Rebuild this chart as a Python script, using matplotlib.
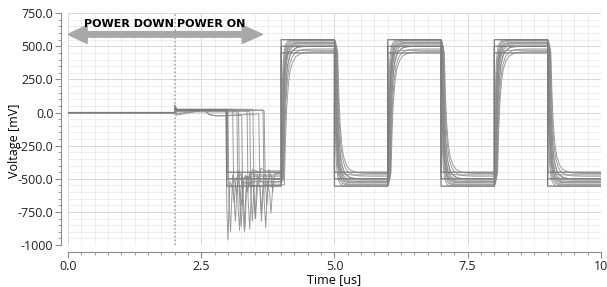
import matplotlib
matplotlib.use("Agg")
import matplotlib.pyplot as plt
import numpy as np

# ---- data ----
x_ticks = [0.0, 2.5, 5.0, 7.5, 10.0]
x_tick_labels = ["0.0", "2.5", "5.0", "7.5", "10"]
y_ticks = [750, 500, 250, 0, -250, -500, -750, -1000]
y_tick_labels = ["750.0", "500.0", "250.0", "0.0", "-250.0", "-500.0", "-750.0", "-1000"]

power_on_t = 2.0        # dotted marker
spike_mv = 50           # glitch at power on
rise_times = [4.0, 6.0, 8.0]
fall_times = [5.0, 7.0, 9.0]
t_end = 10.0

# normalised settling shape of one edge (fraction of the swing vs. time after edge, us)
settle_dt = [0, 0.01, 0.02, 0.035, 0.05, 0.075, 0.1, 0.15, 0.2, 0.3, 0.45]
settle_frac = [0, 0.35, 0.58, 0.76, 0.86, 0.93, 0.965, 0.99, 0.997, 1.0, 1.0]

# simulated traces with slow edges
pre_level = [20, 15, 25, 5, 20, -20, 20, 10, 25, -10, 20, 15]
drop_t = [
    [2.96, 2.98, 3.00, 3.04, 3.08, 3.12, 3.15, 3.20, 3.30, 3.5, 4.0],
    [3.00, 3.02, 3.05, 3.09, 3.13, 3.17, 3.20, 3.28, 3.40, 4.0],
    [3.09, 3.11, 3.14, 3.18, 3.22, 3.26, 3.30, 3.42, 4.0],
    [3.17, 3.19, 3.22, 3.26, 3.29, 3.32, 3.36, 3.46, 4.0],
    [3.20, 3.22, 3.25, 3.29, 3.33, 3.37, 3.41, 3.50, 4.0],
    [3.26, 3.28, 3.31, 3.35, 3.39, 3.42, 3.46, 3.58, 4.0],
    [3.36, 3.38, 3.41, 3.45, 3.48, 3.51, 3.55, 3.65, 4.0],
    [3.41, 3.43, 3.46, 3.50, 3.54, 3.58, 3.62, 3.70, 4.0],
    [3.47, 3.49, 3.52, 3.56, 3.60, 3.63, 3.67, 3.76, 4.0],
    [3.58, 3.60, 3.63, 3.67, 3.71, 3.75, 3.79, 3.86, 4.0],
    [3.66, 3.68, 3.71, 3.75, 3.78, 3.81, 3.85, 4.0],
    [3.68, 3.70, 3.73, 3.77, 3.81, 3.84, 3.88, 4.0],
]
drop_v = [
    [20, -700, -960, -520, -560, -680, -500, -470, -540, -520, -520],
    [15, -650, -900, -470, -520, -620, -440, -500, -480, -480],
    [25, -600, -820, -500, -560, -700, -520, -550, -550],
    [5, -700, -890, -460, -640, -880, -480, -500, -500],
    [20, -650, -860, -520, -470, -600, -450, -470, -470],
    [-20, -700, -900, -480, -500, -560, -430, -450, -450],
    [20, -650, -880, -500, -560, -800, -480, -530, -530],
    [10, -600, -820, -460, -440, -520, -420, -440, -440],
    [25, -600, -800, -520, -560, -820, -540, -545, -545],
    [-10, -550, -750, -480, -470, -560, -470, -500, -500],
    [20, -650, -870, -520, -600, -760, -500, -510],
    [15, -500, -700, -430, -480, -600, -460, -460],
]
high_level = [540, 520, 550, 500, 530, 480, 545, 510, 460, 525, 500, 470]
low_level = [-540, -520, -555, -500, -530, -480, -545, -510, -460, -525, -500, -470]
stretch = [1.0, 1.3, 0.8, 1.6, 1.1, 2.0, 0.9, 1.4, 2.2, 1.2, 1.7, 1.0]
delay = [0.02, 0.03, 0.0, 0.04, 0.02, 0.05, 0.01, 0.03, 0.06, 0.02, 0.04, 0.01]
# small sag before the drop on a few traces
sag_trace = [5, 9]
sag_t = [2.55, 2.65, 2.8]
sag_v = [20, -15, -25]

# ideal (square) traces
ideal_drop_t = 2.98
ideal_pre = 20
ideal_high = [550, 500, 450]
ideal_low = [-555, -500, -450]

plt.rcParams['font.family'] = ['Open Sans', 'DejaVu Sans']

fig = plt.figure(figsize=(6.07, 2.87), dpi=100)
ax = fig.add_axes([0.112, 0.146, 0.878, 0.808])

# curved traces
for i in range(len(pre_level)):
    t = [0.0, power_on_t, power_on_t + 0.01, power_on_t + 0.03]
    v = [0, 0, spike_mv, pre_level[i]]
    if i in sag_trace:
        t += sag_t
        v += sag_v
    t += drop_t[i]
    v += drop_v[i]
    edges = sorted([(r, high_level[i]) for r in rise_times] +
                   [(f, low_level[i]) for f in fall_times])
    cur = v[-1]
    for te, target in edges:
        for d, fr in zip(settle_dt, settle_frac):
            t.append(te + delay[i] + d * stretch[i])
            v.append(cur + fr * (target - cur))
        cur = target
    t.append(t_end)
    v.append(cur)
    ax.plot(t, v, color="#8a8a8a", lw=0.7, alpha=0.85, zorder=3)

# square traces
for hi, lo in zip(ideal_high, ideal_low):
    t = [0.0, power_on_t, power_on_t + 0.01, power_on_t + 0.03, ideal_drop_t, ideal_drop_t]
    v = [0, 0, spike_mv, ideal_pre, ideal_pre, lo]
    edges = sorted([(r, hi) for r in rise_times] + [(f, lo) for f in fall_times])
    cur = lo
    for te, target in edges:
        t += [te, te]
        v += [cur, target]
        cur = target
    t.append(t_end)
    v.append(cur)
    ax.plot(t, v, color="#7c7c7c", lw=0.9, zorder=3)

# power on marker
ax.axvline(power_on_t, color="#a0a0a0", lw=1.1, linestyle=(0, (1, 1.5)), zorder=4)

# arrows + labels
arrow_y = 590
ax.arrow(power_on_t, arrow_y, -power_on_t, 0, width=42, head_width=136, head_length=0.36,
         length_includes_head=True, color="#a8a8a8", zorder=5)
ax.arrow(power_on_t, arrow_y, 1.65, 0, width=42, head_width=136, head_length=0.38,
         length_includes_head=True, color="#a8a8a8", zorder=5)
ax.text(1.98, 665, "POWER DOWN", ha="right", va="center", fontsize=8,
        fontweight="bold", family="DejaVu Sans", zorder=6)
ax.text(2.04, 665, "POWER ON", ha="left", va="center", fontsize=8,
        fontweight="bold", family="DejaVu Sans", zorder=6)

ax.set_xlim(0, 10)
ax.set_ylim(-1000, 750)
ax.set_xticks(x_ticks)
ax.set_xticklabels(x_tick_labels)
ax.set_xticks(np.arange(0, 10.01, 0.25), minor=True)
ax.set_yticks(y_ticks)
ax.set_yticklabels(y_tick_labels)
ax.set_yticks(np.arange(-1000, 751, 50), minor=True)

ax.grid(True, which="major", color="#d2d2d2", lw=0.6)
ax.grid(True, which="minor", color="#e8e8e8", lw=0.5)
ax.set_axisbelow(True)

for s in ["top", "right"]:
    ax.spines[s].set_visible(False)
for s in ["left", "bottom"]:
    ax.spines[s].set_position(("outward", 5))
    ax.spines[s].set_color("#8c8c8c")
ax.tick_params(which="major", length=4, color="#8c8c8c", labelsize=9, labelcolor="#222222", pad=1.5)
ax.tick_params(which="minor", length=2.5, color="#8c8c8c")

ax.set_xlabel("Time [us]", fontsize=9, labelpad=0)
ax.set_ylabel("Voltage [mV]", fontsize=9)
ax.yaxis.set_label_coords(-0.088, 0.45)

fig.savefig("out.png", dpi=100)
